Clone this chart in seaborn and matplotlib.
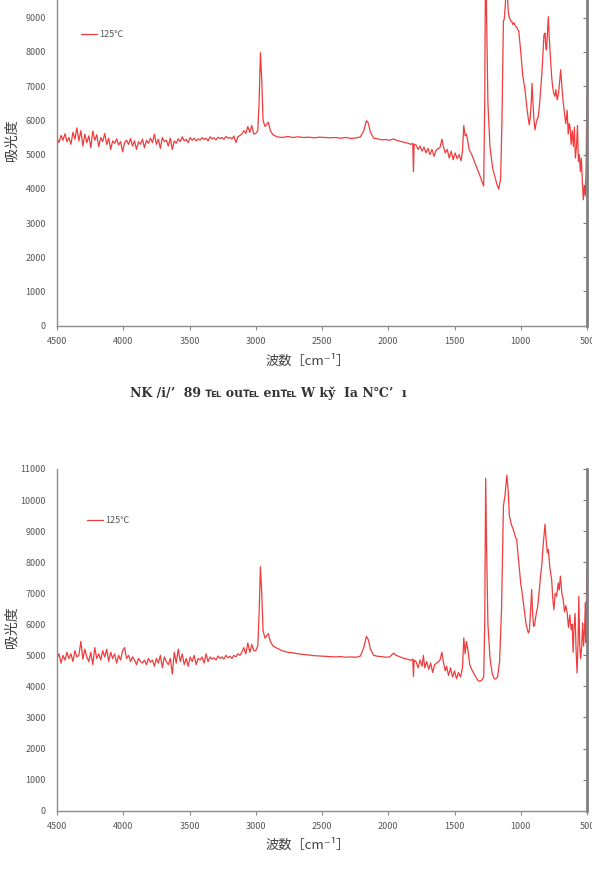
import numpy as np
import pandas as pd
import matplotlib
matplotlib.use("Agg")
import matplotlib.pyplot as plt
import seaborn as sns

# noisy region 4500 -> 3015 cm-1, one reading every 15 cm-1
noise_wn = np.arange(4500, 3000, -15)

noise_top = [
    5480, 5350, 5560, 5420, 5610, 5380, 5500, 5300, 5650, 5450, 5780, 5400,
    5700, 5250, 5600, 5350, 5550, 5200, 5690, 5420, 5580, 5230, 5500, 5380,
    5620, 5300, 5480, 5150, 5400, 5330, 5460, 5280, 5380, 5080, 5350, 5420,
    5300, 5470, 5250, 5400, 5150, 5380, 5300, 5450, 5200, 5420, 5330, 5480,
    5350, 5600, 5300, 5450, 5180, 5500, 5380, 5420, 5250, 5480, 5150, 5400,
    5330, 5460, 5380, 5520, 5400, 5450, 5350, 5500, 5420, 5480, 5400, 5460,
    5420, 5500, 5440, 5480, 5400, 5520, 5460, 5490, 5430, 5510, 5470, 5500,
    5450, 5530, 5480, 5500, 5460, 5540, 5350, 5520, 5560, 5600, 5700, 5620,
    5820, 5650, 5850, 5600,
]

noise_bot = [
    4900, 5050, 4750, 5000, 4850, 5100, 4900, 5050, 4800, 5150, 4950, 5000,
    5450, 4880, 5200, 4950, 4800, 5100, 4700, 5250, 4900, 5050, 4850, 5150,
    4950, 5200, 4800, 5100, 4900, 5050, 4750, 5000, 4850, 5150, 5250, 4900,
    5000, 4800, 4950, 4850, 4700, 4900, 4800, 4750, 4850, 4700, 4900, 4780,
    4850, 4650, 4900, 4750, 5000, 4600, 4950, 4800, 4700, 4900, 4400, 5100,
    4750, 5200, 4800, 5050, 4700, 4900, 4650, 4950, 4800, 5000, 4700, 4900,
    4850, 4950, 4750, 5050, 4800, 4950, 4880, 4920, 4850, 4980, 4900, 4950,
    4880, 5000, 4920, 4970, 4900, 5000, 4950, 5050, 5000, 5100, 5250, 5050,
    5400, 5100, 5350, 5150,
]

# (wavenumber, absorbance) below 3000 cm-1
tail_top = [
    (3000, 5620), (2985, 5700), (2975, 6500), (2965, 7980), (2955, 7200),
    (2945, 6000), (2930, 5820), (2915, 5900), (2905, 5950), (2890, 5700),
    (2870, 5580), (2840, 5520), (2800, 5500), (2760, 5530), (2720, 5500),
    (2680, 5520), (2640, 5500), (2600, 5510), (2560, 5490), (2520, 5510),
    (2480, 5500), (2440, 5490), (2400, 5500), (2360, 5480), (2320, 5500),
    (2280, 5470), (2240, 5490), (2210, 5520), (2185, 5700), (2165, 5990),
    (2150, 5920), (2135, 5650), (2110, 5480), (2080, 5460), (2050, 5430),
    (2020, 5440), (1990, 5420), (1960, 5460), (1940, 5420), (1910, 5390),
    (1880, 5360), (1850, 5330), (1830, 5300), (1815, 5330), (1810, 4500),
    (1805, 5300), (1790, 5280), (1775, 5150), (1760, 5250), (1745, 5100),
    (1730, 5220), (1715, 5050), (1700, 5180), (1685, 5000), (1670, 5150),
    (1655, 4950), (1640, 5120), (1625, 5180), (1610, 5200), (1595, 5450),
    (1585, 5250), (1570, 5050), (1555, 5150), (1540, 4900), (1525, 5100),
    (1510, 4850), (1495, 5050), (1480, 4880), (1465, 5000), (1450, 4820),
    (1440, 5100), (1430, 5850), (1420, 5550), (1410, 5600), (1400, 5400),
    (1390, 5150), (1370, 5000), (1350, 4800), (1330, 4600), (1310, 4400),
    (1290, 4180), (1280, 4080), (1272, 6500), (1265, 11500), (1258, 9000),
    (1248, 6500), (1232, 5200), (1212, 4600), (1192, 4300), (1178, 4100),
    (1166, 3990), (1152, 4300), (1142, 6000), (1131, 8900), (1125, 8950),
    (1118, 9300), (1110, 9800), (1100, 9600), (1094, 9150), (1085, 9000),
    (1075, 8900), (1068, 8900), (1060, 8800), (1050, 8850), (1040, 8750),
    (1030, 8720), (1015, 8600), (1000, 8000), (985, 7300), (968, 6900),
    (955, 6400), (945, 6100), (936, 5870), (928, 6100), (920, 6600),
    (915, 7080), (908, 6500), (900, 6000), (893, 5720), (885, 5900),
    (875, 6050), (868, 6110), (860, 6400), (852, 6800), (847, 7080),
    (840, 7400), (832, 8000), (825, 8500), (817, 8550), (810, 8100),
    (806, 8060), (800, 8500), (792, 9030), (785, 8400), (775, 7800),
    (767, 7280), (760, 7000), (752, 6800), (742, 6700), (735, 6900),
    (725, 6600), (715, 6800), (705, 7200), (699, 7480), (690, 7000),
    (679, 6500), (670, 6200), (660, 5900), (650, 6300), (642, 5600),
    (635, 5900), (628, 5820), (620, 5300), (612, 5700), (603, 5240),
    (595, 5800), (588, 4900), (580, 5200), (572, 5850), (565, 4800),
    (558, 5000), (550, 4500), (543, 4900), (535, 4200), (528, 3680),
    (520, 4100), (513, 3800), (507, 4500), (503, 6000), (500, 6700),
]

tail_bot = [
    (3000, 5150), (2985, 5300), (2975, 6300), (2965, 7850), (2955, 7000),
    (2945, 5800), (2930, 5550), (2915, 5650), (2905, 5700), (2890, 5450),
    (2870, 5300), (2840, 5230), (2800, 5150), (2760, 5100), (2720, 5080),
    (2680, 5050), (2640, 5030), (2600, 5010), (2560, 4990), (2520, 4980),
    (2480, 4970), (2440, 4960), (2400, 4950), (2360, 4960), (2320, 4940),
    (2280, 4950), (2240, 4940), (2210, 4980), (2185, 5250), (2165, 5610),
    (2150, 5500), (2135, 5200), (2110, 5000), (2080, 4970), (2050, 4960),
    (2020, 4940), (1990, 4950), (1960, 5070), (1940, 5000), (1910, 4950),
    (1880, 4900), (1850, 4870), (1830, 4840), (1815, 4880), (1810, 4320),
    (1805, 4850), (1790, 4800), (1775, 4600), (1760, 4850), (1745, 4650),
    (1735, 5000), (1725, 4600), (1710, 4800), (1695, 4550), (1680, 4750),
    (1665, 4450), (1650, 4700), (1635, 4750), (1620, 4800), (1610, 4850),
    (1595, 5100), (1585, 4800), (1570, 4500), (1560, 4650), (1545, 4350),
    (1530, 4600), (1515, 4300), (1500, 4500), (1485, 4250), (1470, 4450),
    (1455, 4300), (1440, 4600), (1430, 5560), (1420, 5050), (1410, 5450),
    (1400, 5200), (1385, 4700), (1365, 4500), (1345, 4350), (1325, 4200),
    (1310, 4160), (1295, 4200), (1280, 4300), (1272, 6000), (1265, 10700),
    (1258, 8500), (1248, 6000), (1232, 4900), (1215, 4400), (1200, 4250),
    (1190, 4240), (1175, 4300), (1160, 4800), (1145, 6500), (1131, 9800),
    (1118, 10200), (1105, 10800), (1095, 10300), (1086, 9480), (1070, 9200),
    (1056, 9050), (1040, 8800), (1031, 8730), (1015, 8000), (1000, 7300),
    (993, 7120), (975, 6500), (960, 6000), (943, 5720), (935, 5800),
    (925, 6500), (918, 7120), (910, 6300), (903, 5940), (897, 5950),
    (885, 6300), (872, 6580), (860, 7100), (850, 7600), (842, 7870),
    (830, 8600), (817, 9220), (810, 8800), (800, 8300), (792, 8410),
    (780, 7800), (767, 7440), (758, 6800), (750, 6470), (740, 7000),
    (730, 6900), (717, 7330), (710, 7100), (701, 7550), (690, 7000),
    (680, 6800), (670, 6400), (660, 6600), (650, 6370), (640, 5900),
    (630, 6300), (620, 5830), (612, 6000), (605, 5100), (598, 5900),
    (590, 6350), (583, 5200), (575, 4430), (568, 5400), (562, 6900),
    (555, 5300), (548, 4900), (540, 5290), (533, 6050), (526, 5300),
    (518, 5900), (512, 6700), (507, 5400), (503, 7300), (500, 7760),
]

xticks = [4500, 4000, 3500, 3000, 2500, 2000, 1500, 1000, 500]
series_label = "125℃"
xlabel = "波数［cm⁻¹］"
ylabel = "吸光度"
caption = "NK /i/ʼ  89 ℡ ou℡ en℡ W ky̌  Ia N℃ʼ  ı"


def make_df(noise, tail):
    wn = list(noise_wn) + [p[0] for p in tail]
    ab = list(noise) + [p[1] for p in tail]
    return pd.DataFrame({"wn": wn, "abs": ab, "s": series_label})


sns.set_style("white")
plt.rcParams['font.family'] = ['Noto Sans CJK JP', 'DejaVu Sans']

fig = plt.figure(figsize=(5.92, 8.72), dpi=100)
red = "#f03c3c"
gray = "#8c8c8c"


def graph_fix(ax, ymax, ytop, leg_x):
    ax.set_xlim(4500, 500)
    ax.set_ylim(0, ymax)
    ax.set_xticks(xticks)
    ax.set_xticklabels([str(t) for t in xticks])
    ax.set_yticks(range(0, ytop + 1, 1000))
    ax.tick_params(axis='x', bottom=True, direction='out', length=3,
                   color=gray, labelsize=6.5, labelcolor="#555555", pad=5)
    ax.tick_params(axis='y', left=False, right=True, direction='in',
                   length=3, color="#777777", labelsize=6.5,
                   labelcolor="#555555", pad=8)
    for s in ['left', 'bottom']:
        ax.spines[s].set_color(gray)
        ax.spines[s].set_linewidth(1.0)
    ax.spines['right'].set_color("#808080")
    ax.spines['right'].set_linewidth(2.0)
    ax.spines['top'].set_visible(False)
    ax.set_xlabel("")
    ax.set_ylabel("")
    ax.legend(loc='center left', bbox_to_anchor=(leg_x, 0.85),
              frameon=False, fontsize=6.5, handlelength=1.8,
              handletextpad=0.2, borderpad=0, borderaxespad=0,
              labelcolor="#555555")


ax1 = fig.add_axes([0.0963, 0.6265, 0.8953, 0.3924])
sns.lineplot(data=make_df(noise_top, tail_top), x="wn", y="abs", hue="s",
             palette=[red], estimator=None, sort=False, linewidth=0.9, ax=ax1)
# the 10000 row sits above the picture's top edge
graph_fix(ax1, 10000, 9000, 0.045)

ax2 = fig.add_axes([0.0963, 0.0703, 0.8953, 0.3919])
sns.lineplot(data=make_df(noise_bot, tail_bot), x="wn", y="abs", hue="s",
             palette=[red], estimator=None, sort=False, linewidth=0.9, ax=ax2)
graph_fix(ax2, 11000, 11000, 0.057)

# axis titles and captions
for yc, xl_y in [(140, 361), (627, 845)]:
    fig.text(12 / 592, 1 - yc / 872, ylabel, rotation=90, ha='center',
             va='center', fontsize=10, color="#404040")
    fig.text(308 / 592, 1 - xl_y / 872, xlabel, ha='center', va='center',
             fontsize=9.5, color="#404040")

fig.text(268 / 592, 1 - 393 / 872, caption, ha='center', va='center',
         fontsize=9, fontweight='bold', color="#333333",
         family=['DejaVu Serif', 'DejaVu Sans'])
fig.text(268 / 592, 1 - 879 / 872, caption, ha='center', va='center',
         fontsize=9, fontweight='bold', color="#333333",
         family=['DejaVu Serif', 'DejaVu Sans'])

plt.savefig("out.png", dpi=100)
